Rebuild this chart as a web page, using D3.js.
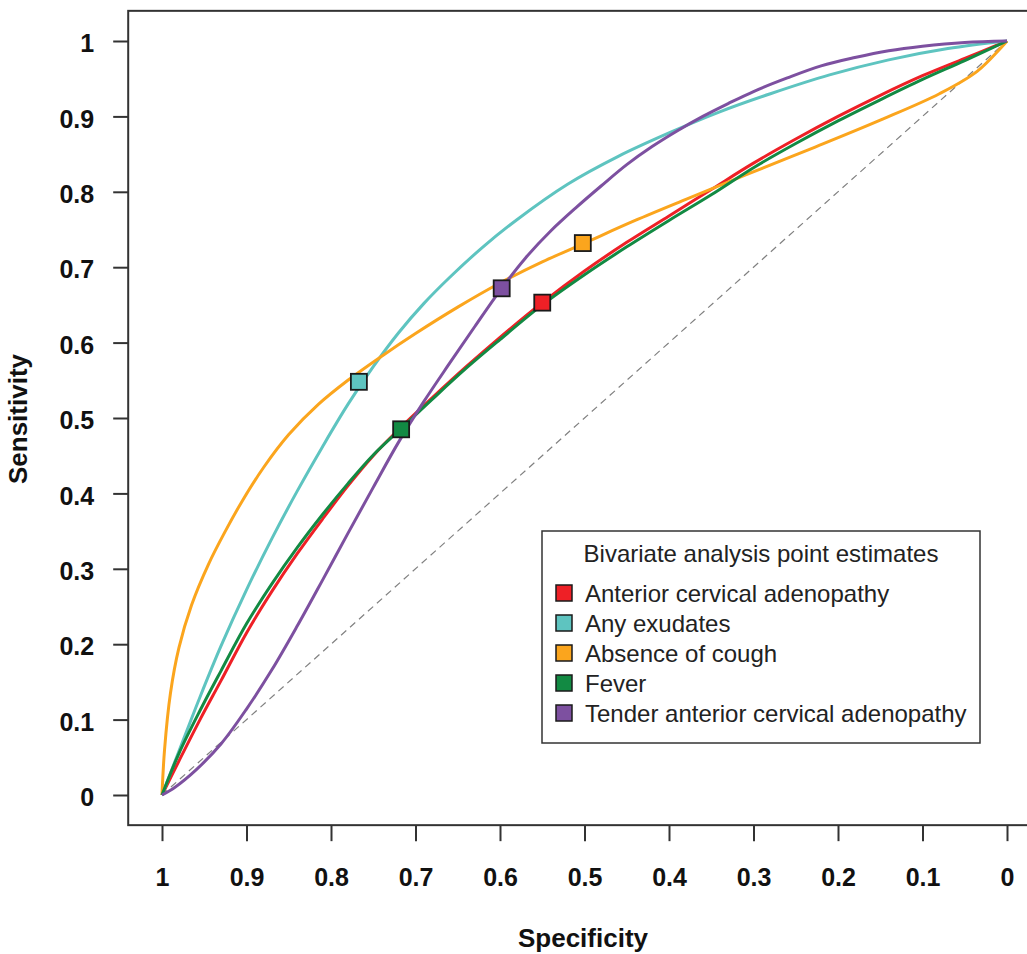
<!DOCTYPE html>
<html>
<head>
<meta charset="utf-8">
<script src="https://cdn.jsdelivr.net/npm/d3@7/dist/d3.min.js"></script>
<style>
  body { margin: 0; background: #fff; }
  svg { display: block; font-family: "Liberation Sans", Arial, sans-serif; }
</style>
</head>
<body>
<div id="chart"></div>
<script>
// summary ROC curves, [specificity, sensitivity]
var seriesNames = ["Anterior cervical adenopathy", "Any exudates", "Absence of cough", "Fever", "Tender anterior cervical adenopathy"];
var seriesColors = ["#EE2026", "#5EC4C0", "#FBA51D", "#128A43", "#7D50A0"];

var adenopathyCurve = [[1,0],[0.98,0.045],[0.955,0.1],[0.93,0.152],[0.9,0.215],[0.87,0.27],[0.84,0.32],[0.81,0.366],[0.78,0.41],[0.75,0.45],[0.717,0.488],[0.68,0.527],[0.64,0.568],[0.6,0.607],[0.55,0.653],[0.5,0.695],[0.45,0.733],[0.4,0.768],[0.35,0.803],[0.3,0.838],[0.25,0.87],[0.2,0.9],[0.15,0.928],[0.1,0.954],[0.05,0.977],[0,1]];
var exudatesCurve = [[1,0],[0.98,0.058],[0.955,0.13],[0.93,0.198],[0.9,0.272],[0.87,0.34],[0.84,0.403],[0.81,0.462],[0.78,0.518],[0.75,0.568],[0.72,0.613],[0.69,0.652],[0.66,0.686],[0.62,0.727],[0.58,0.763],[0.52,0.81],[0.46,0.847],[0.4,0.878],[0.34,0.906],[0.28,0.93],[0.21,0.955],[0.14,0.975],[0.07,0.99],[0,1]];
var coughCurve = [[1,0],[0.997,0.06],[0.99,0.135],[0.98,0.195],[0.965,0.252],[0.945,0.306],[0.925,0.35],[0.905,0.39],[0.88,0.434],[0.85,0.478],[0.815,0.518],[0.78,0.55],[0.74,0.582],[0.7,0.612],[0.65,0.647],[0.6,0.679],[0.55,0.707],[0.5,0.732],[0.44,0.762],[0.38,0.79],[0.31,0.822],[0.23,0.858],[0.15,0.895],[0.08,0.93],[0.035,0.96],[0,1]];
var feverCurve = [[1,0],[0.98,0.055],[0.955,0.112],[0.93,0.165],[0.9,0.227],[0.87,0.28],[0.84,0.328],[0.81,0.372],[0.78,0.413],[0.75,0.451],[0.717,0.486],[0.68,0.525],[0.64,0.566],[0.6,0.604],[0.55,0.65],[0.5,0.69],[0.45,0.727],[0.4,0.762],[0.35,0.796],[0.3,0.832],[0.25,0.864],[0.2,0.894],[0.15,0.922],[0.1,0.949],[0.05,0.974],[0,1]];
var tenderCurve = [[1,0],[0.985,0.01],[0.96,0.033],[0.93,0.068],[0.9,0.114],[0.87,0.166],[0.84,0.224],[0.81,0.285],[0.78,0.347],[0.75,0.408],[0.72,0.468],[0.69,0.522],[0.66,0.572],[0.63,0.621],[0.6,0.669],[0.57,0.712],[0.54,0.748],[0.51,0.779],[0.48,0.808],[0.45,0.836],[0.42,0.86],[0.39,0.881],[0.36,0.9],[0.33,0.917],[0.3,0.933],[0.26,0.951],[0.22,0.967],[0.18,0.978],[0.14,0.987],[0.1,0.993],[0.05,0.998],[0,1]];

// bivariate point estimates
var pointSpec = [0.55, 0.767, 0.502, 0.717, 0.598];
var pointSens = [0.653, 0.548, 0.732, 0.485, 0.672];

var tickValues = [1, 0.9, 0.8, 0.7, 0.6, 0.5, 0.4, 0.3, 0.2, 0.1, 0];

var WIDTH = 1027, HEIGHT = 954;
var curves = [adenopathyCurve, exudatesCurve, coughCurve, feverCurve, tenderCurve];

var x = d3.scaleLinear().domain([1, 0]).range([162, 1007]);
var y = d3.scaleLinear().domain([0, 1]).range([795, 41]);

var svg = d3.select("#chart")
  .append("svg")
  .attr("width", WIDTH)
  .attr("height", HEIGHT);

// diagonal
svg.append("line")
  .attr("x1", x(1)).attr("y1", y(0))
  .attr("x2", x(0)).attr("y2", y(1))
  .attr("stroke", "#808080")
  .attr("stroke-width", 1.2)
  .attr("stroke-dasharray", "7,5");

var line = d3.line()
  .x(function(d) { return x(d[0]); })
  .y(function(d) { return y(d[1]); })
  .curve(d3.curveCatmullRom);

svg.append("g").selectAll("path")
  .data(curves)
  .enter().append("path")
  .attr("d", line)
  .attr("fill", "none")
  .attr("stroke", function(d, i) { return seriesColors[i]; })
  .attr("stroke-width", 3);

svg.append("g").selectAll("rect")
  .data(pointSpec)
  .enter().append("rect")
  .attr("x", function(d) { return x(d) - 8; })
  .attr("y", function(d, i) { return y(pointSens[i]) - 8; })
  .attr("width", 16)
  .attr("height", 16)
  .attr("fill", function(d, i) { return seriesColors[i]; })
  .attr("stroke", "#1a1a1a")
  .attr("stroke-width", 1.8);

// plot box (R extends 4% beyond data range)
svg.append("rect")
  .attr("x", x(1.04))
  .attr("y", y(1.04))
  .attr("width", x(-0.04) - x(1.04))
  .attr("height", y(-0.04) - y(1.04))
  .attr("fill", "none")
  .attr("stroke", "#333")
  .attr("stroke-width", 2);

var fmt = d3.format("");

var xAxis = svg.append("g")
  .attr("transform", "translate(0," + y(-0.04) + ")")
  .call(d3.axisBottom(x).tickValues(tickValues).tickFormat(fmt).tickSize(16).tickPadding(27));

var yAxis = svg.append("g")
  .attr("transform", "translate(" + x(1.04) + ",0)")
  .call(d3.axisLeft(y).tickValues(tickValues).tickFormat(fmt).tickSize(15).tickPadding(19));

[xAxis, yAxis].forEach(function(ax) {
  ax.select(".domain").remove();
  ax.selectAll(".tick line").attr("stroke", "#333").attr("stroke-width", 2);
  ax.selectAll(".tick text")
    .attr("fill", "#111")
    .attr("font-size", 25)
    .attr("font-weight", "bold")
    .attr("font-family", "'Liberation Sans', Arial, sans-serif");
});
yAxis.selectAll(".tick text").attr("dy", "0.43em");

svg.append("text")
  .attr("x", 583)
  .attr("y", 947)
  .attr("text-anchor", "middle")
  .attr("font-size", 26)
  .attr("font-weight", "bold")
  .attr("fill", "#111")
  .text("Specificity");

svg.append("text")
  .attr("transform", "translate(27,419) rotate(-90)")
  .attr("text-anchor", "middle")
  .attr("font-size", 26)
  .attr("font-weight", "bold")
  .attr("fill", "#111")
  .text("Sensitivity");

// legend
var legend = svg.append("g");
legend.append("rect")
  .attr("x", 542).attr("y", 531)
  .attr("width", 438).attr("height", 212)
  .attr("fill", "#fff")
  .attr("stroke", "#333")
  .attr("stroke-width", 1.5);

legend.append("text")
  .attr("x", 761).attr("y", 562)
  .attr("text-anchor", "middle")
  .attr("font-size", 24)
  .attr("fill", "#222")
  .text("Bivariate analysis point estimates");

var item = legend.selectAll(".item")
  .data(seriesNames)
  .enter().append("g")
  .attr("class", "item")
  .attr("transform", function(d, i) { return "translate(0," + (593 + i * 30) + ")"; });

item.append("rect")
  .attr("x", 556).attr("y", -8)
  .attr("width", 16).attr("height", 16)
  .attr("fill", function(d, i) { return seriesColors[i]; })
  .attr("stroke", "#1a1a1a")
  .attr("stroke-width", 1.5);

item.append("text")
  .attr("x", 585).attr("y", 9)
  .attr("font-size", 24)
  .attr("fill", "#222")
  .text(function(d) { return d; });
</script>
</body>
</html>
